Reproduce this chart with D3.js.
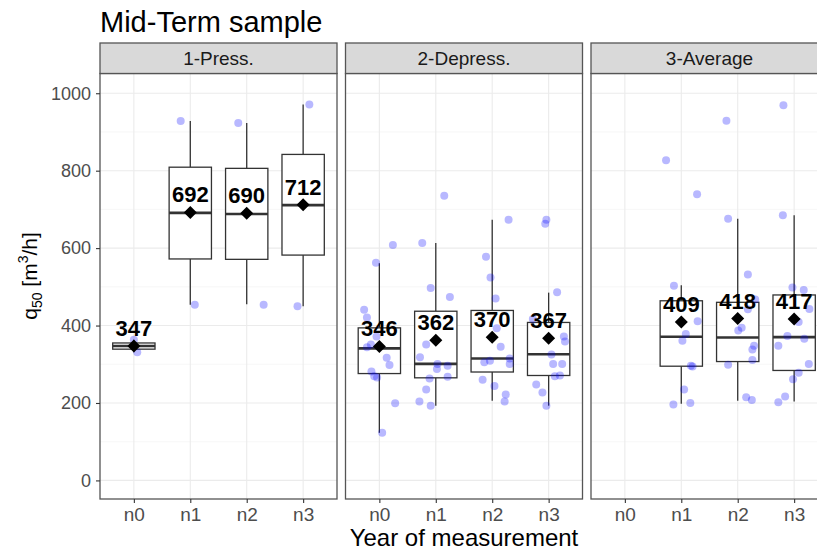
<!DOCTYPE html>
<html>
<head>
<meta charset="utf-8">
<script src="https://cdn.jsdelivr.net/npm/d3@7"></script>
<style>
  html, body { margin: 0; padding: 0; background: #fff; }
  svg { display: block; font-family: "Liberation Sans", Arial, sans-serif; }
</style>
</head>
<body>
<svg id="chart" width="817" height="551"></svg>
<script>
// ---------------- data ----------------
const title = "Mid-Term sample";
const facets = ["1-Press.", "2-Depress.", "3-Average"];
const years = ["n0", "n1", "n2", "n3"];
const yTicks = [0, 200, 400, 600, 800, 1000];
const yMinorTicks = [100, 300, 500, 700, 900];
const xTitle = "Year of measurement";

// box statistics
const boxFacet = ["1-Press.", "1-Press.", "1-Press.", "1-Press.",
                  "2-Depress.", "2-Depress.", "2-Depress.", "2-Depress.",
                  "3-Average", "3-Average", "3-Average"];
const boxYear  = ["n0", "n1", "n2", "n3", "n0", "n1", "n2", "n3", "n1", "n2", "n3"];
const boxLow   = [331, 454, 455, 450, 123, 193, 206, 193, 198, 206, 204];
const boxQ1    = [339, 572, 571, 582, 276, 265, 280, 271, 295, 307, 284];
const boxMed   = [347, 691, 688, 711, 341, 301, 315, 326, 371, 369, 370];
const boxQ3    = [355, 809, 806, 842, 394, 437, 439, 408, 464, 460, 479];
const boxHigh  = [363, 928, 923, 971, 561, 613, 673, 485, 504, 676, 685];
const boxMean  = [347, 692, 690, 712, 346, 362, 370, 367, 409, 418, 417];

// jittered observations: [year, value, jitter (in category steps)]
const pressPoints = [
  ["n0", 363, 0.00], ["n0", 331, 0.06],
  ["n1", 928, -0.17], ["n1", 454, 0.08],
  ["n2", 923, -0.15], ["n2", 454, 0.30],
  ["n3", 971, 0.11], ["n3", 450, -0.10]
];
const depressPoints = [
  ["n0", 562, -0.06], ["n0", 608, 0.24], ["n0", 441, -0.27], ["n0", 421, -0.22],
  ["n0", 372, -0.05], ["n0", 344, -0.22], ["n0", 351, -0.15], ["n0", 317, 0.13],
  ["n0", 298, 0.18], ["n0", 281, -0.14], ["n0", 269, -0.09], ["n0", 266, -0.04],
  ["n0", 199, 0.28], ["n0", 123, 0.05],
  ["n1", 735, 0.15], ["n1", 613, -0.24], ["n1", 497, -0.09], ["n1", 474, 0.25],
  ["n1", 351, -0.17], ["n1", 318, -0.28], ["n1", 301, 0.03], ["n1", 288, 0.02],
  ["n1", 296, 0.21], ["n1", 268, 0.21], ["n1", 263, -0.11], ["n1", 235, -0.17],
  ["n1", 204, -0.29], ["n1", 193, -0.09],
  ["n2", 673, 0.29], ["n2", 578, -0.11], ["n2", 524, -0.03], ["n2", 470, 0.06],
  ["n2", 393, 0.08], ["n2", 345, 0.15], ["n2", 305, -0.14], ["n2", 309, -0.04],
  ["n2", 315, 0.31], ["n2", 301, 0.31], ["n2", 260, -0.17], ["n2", 244, 0.04],
  ["n2", 222, 0.24], ["n2", 204, 0.22],
  ["n3", 673, -0.04], ["n3", 663, -0.06], ["n3", 486, 0.15], ["n3", 417, -0.28],
  ["n3", 372, 0.27], ["n3", 359, 0.29], ["n3", 325, 0.05], ["n3", 301, 0.08],
  ["n3", 301, 0.24], ["n3", 269, 0.11], ["n3", 271, 0.20], ["n3", 248, -0.22],
  ["n3", 227, -0.11], ["n3", 193, -0.04]
];
const averagePoints = [
  ["n1", 827, -0.27], ["n1", 739, 0.28], ["n1", 503, -0.13], ["n1", 411, 0.29],
  ["n1", 378, 0.08], ["n1", 361, 0.02], ["n1", 296, 0.17], ["n1", 294, 0.20],
  ["n1", 235, 0.05], ["n1", 196, -0.14], ["n1", 200, 0.16],
  ["n2", 929, -0.20], ["n2", 676, -0.17], ["n2", 532, 0.18], ["n2", 467, 0.31],
  ["n2", 442, 0.18], ["n2", 394, 0.07], ["n2", 387, 0.01], ["n2", 348, 0.29],
  ["n2", 338, 0.26], ["n2", 311, 0.26], ["n2", 299, -0.17], ["n2", 215, 0.15],
  ["n2", 208, 0.25],
  ["n3", 969, -0.19], ["n3", 685, -0.20], ["n3", 498, -0.03], ["n3", 492, 0.17],
  ["n3", 443, 0.27], ["n3", 409, 0.08], ["n3", 373, -0.12], ["n3", 366, 0.18],
  ["n3", 348, -0.28], ["n3", 301, 0.26], ["n3", 278, 0.08], ["n3", 261, -0.02],
  ["n3", 217, -0.16], ["n3", 202, -0.28]
];
const pointsByFacet = {"1-Press.": pressPoints, "2-Depress.": depressPoints, "3-Average": averagePoints};

// ---------------- layout ----------------
const svg = d3.select("#chart");
const panelTop = 73.5, panelBottom = 499, stripTop = 43;

const fx = d3.scaleBand().domain(facets).range([100, 828])
  .paddingInner(8.5 / 245.5).paddingOuter(0);
const pw = fx.bandwidth();
const x = d3.scalePoint().domain(years).range([0, pw]).padding(0.6);
const step = x.step();
const y = d3.scaleLinear().domain([-48, 1051]).range([panelBottom, panelTop]);

const boxes = boxFacet.map((f, i) => ({
  facet: f, year: boxYear[i], low: boxLow[i], q1: boxQ1[i], med: boxMed[i],
  q3: boxQ3[i], high: boxHigh[i], mean: boxMean[i]
}));

// title
svg.append("text").attr("x", 100).attr("y", 31.5)
  .attr("font-size", 29).attr("fill", "#000").text(title);

facets.forEach(f => {
  const g = svg.append("g").attr("transform", `translate(${fx(f)},0)`);
  g.append("rect").attr("x", 0).attr("y", panelTop).attr("width", pw)
    .attr("height", panelBottom - panelTop).attr("fill", "#fff");
  g.selectAll(".minor").data(yMinorTicks).join("line")
    .attr("x1", 0).attr("x2", pw).attr("y1", d => y(d)).attr("y2", d => y(d))
    .attr("stroke", "#F2F2F2").attr("stroke-width", 0.6);
  g.selectAll(".major").data(yTicks).join("line")
    .attr("x1", 0).attr("x2", pw).attr("y1", d => y(d)).attr("y2", d => y(d))
    .attr("stroke", "#EBEBEB").attr("stroke-width", 1.1);
  g.selectAll(".vgrid").data(years).join("line")
    .attr("x1", d => x(d)).attr("x2", d => x(d)).attr("y1", panelTop).attr("y2", panelBottom)
    .attr("stroke", "#EBEBEB").attr("stroke-width", 1.1);

  const fb = boxes.filter(b => b.facet === f);
  const bw = step * 0.75;
  const bg = g.selectAll(".box").data(fb).join("g");
  bg.append("line").attr("x1", d => x(d.year)).attr("x2", d => x(d.year))
    .attr("y1", d => y(d.q3)).attr("y2", d => y(d.high))
    .attr("stroke", "#333").attr("stroke-width", 1.3);
  bg.append("line").attr("x1", d => x(d.year)).attr("x2", d => x(d.year))
    .attr("y1", d => y(d.q1)).attr("y2", d => y(d.low))
    .attr("stroke", "#333").attr("stroke-width", 1.3);
  bg.append("rect").attr("x", d => x(d.year) - bw / 2).attr("width", bw)
    .attr("y", d => y(d.q3)).attr("height", d => y(d.q1) - y(d.q3))
    .attr("fill", "#fff").attr("stroke", "#333").attr("stroke-width", 1.3);
  bg.append("line").attr("x1", d => x(d.year) - bw / 2).attr("x2", d => x(d.year) + bw / 2)
    .attr("y1", d => y(d.med)).attr("y2", d => y(d.med))
    .attr("stroke", "#333").attr("stroke-width", 2.6);

  g.selectAll(".pt").data(pointsByFacet[f]).join("circle")
    .attr("cx", d => x(d[0]) + d[2] * step).attr("cy", d => y(d[1]))
    .attr("r", 4).attr("fill", "#0000FF").attr("fill-opacity", 0.28);

  const dm = 6.5;
  g.selectAll(".mean").data(fb).join("path")
    .attr("transform", d => `translate(${x(d.year)},${y(d.mean)})`)
    .attr("d", `M0,${-dm}L${dm},0L0,${dm}L${-dm},0Z`).attr("fill", "#000");
  g.selectAll(".lab").data(fb).join("text")
    .attr("x", d => x(d.year)).attr("y", d => y(d.mean) - 10)
    .attr("text-anchor", "middle").attr("font-size", 22).attr("font-weight", "bold")
    .attr("fill", "#000").text(d => d.mean);

  g.append("rect").attr("x", 0).attr("y", panelTop).attr("width", pw)
    .attr("height", panelBottom - panelTop).attr("fill", "none")
    .attr("stroke", "#555").attr("stroke-width", 1.3);
  g.append("rect").attr("x", 0).attr("y", stripTop).attr("width", pw)
    .attr("height", panelTop - stripTop).attr("fill", "#D9D9D9")
    .attr("stroke", "#555").attr("stroke-width", 1.3);
  g.append("text").attr("x", pw / 2).attr("y", 65).attr("text-anchor", "middle")
    .attr("font-size", 19).attr("fill", "#1A1A1A").text(f);

  const xa = g.append("g").attr("transform", `translate(0,${panelBottom})`)
    .call(d3.axisBottom(x).tickSize(4).tickPadding(5));
  xa.select(".domain").remove();
  xa.selectAll(".tick line").attr("stroke", "#333").attr("stroke-width", 1.1);
  xa.selectAll(".tick text").attr("font-size", 19).attr("fill", "#4D4D4D")
    .attr("font-family", "Liberation Sans, Arial, sans-serif");
});

const ya = svg.append("g").attr("transform", `translate(100,0)`)
  .call(d3.axisLeft(y).tickValues(yTicks).tickFormat(d3.format("d")).tickSize(4).tickPadding(5));
ya.select(".domain").remove();
ya.selectAll(".tick line").attr("stroke", "#333").attr("stroke-width", 1.1);
ya.selectAll(".tick text").attr("font-size", 18).attr("fill", "#4D4D4D")
  .attr("font-family", "Liberation Sans, Arial, sans-serif");

svg.append("text").attr("x", 464).attr("y", 546).attr("text-anchor", "middle")
  .attr("font-size", 24).attr("fill", "#000").text(xTitle);

const yt = svg.append("text").attr("transform", "translate(37,276) rotate(-90)")
  .attr("text-anchor", "middle").attr("font-size", 21).attr("fill", "#000");
yt.append("tspan").text("q");
yt.append("tspan").attr("font-size", 14).attr("dy", 5).text("50");
yt.append("tspan").attr("dy", -5).text(" [m");
yt.append("tspan").attr("font-size", 14).attr("dy", -9).text("3");
yt.append("tspan").attr("dy", 9).text("/h]");
</script>
</body>
</html>
